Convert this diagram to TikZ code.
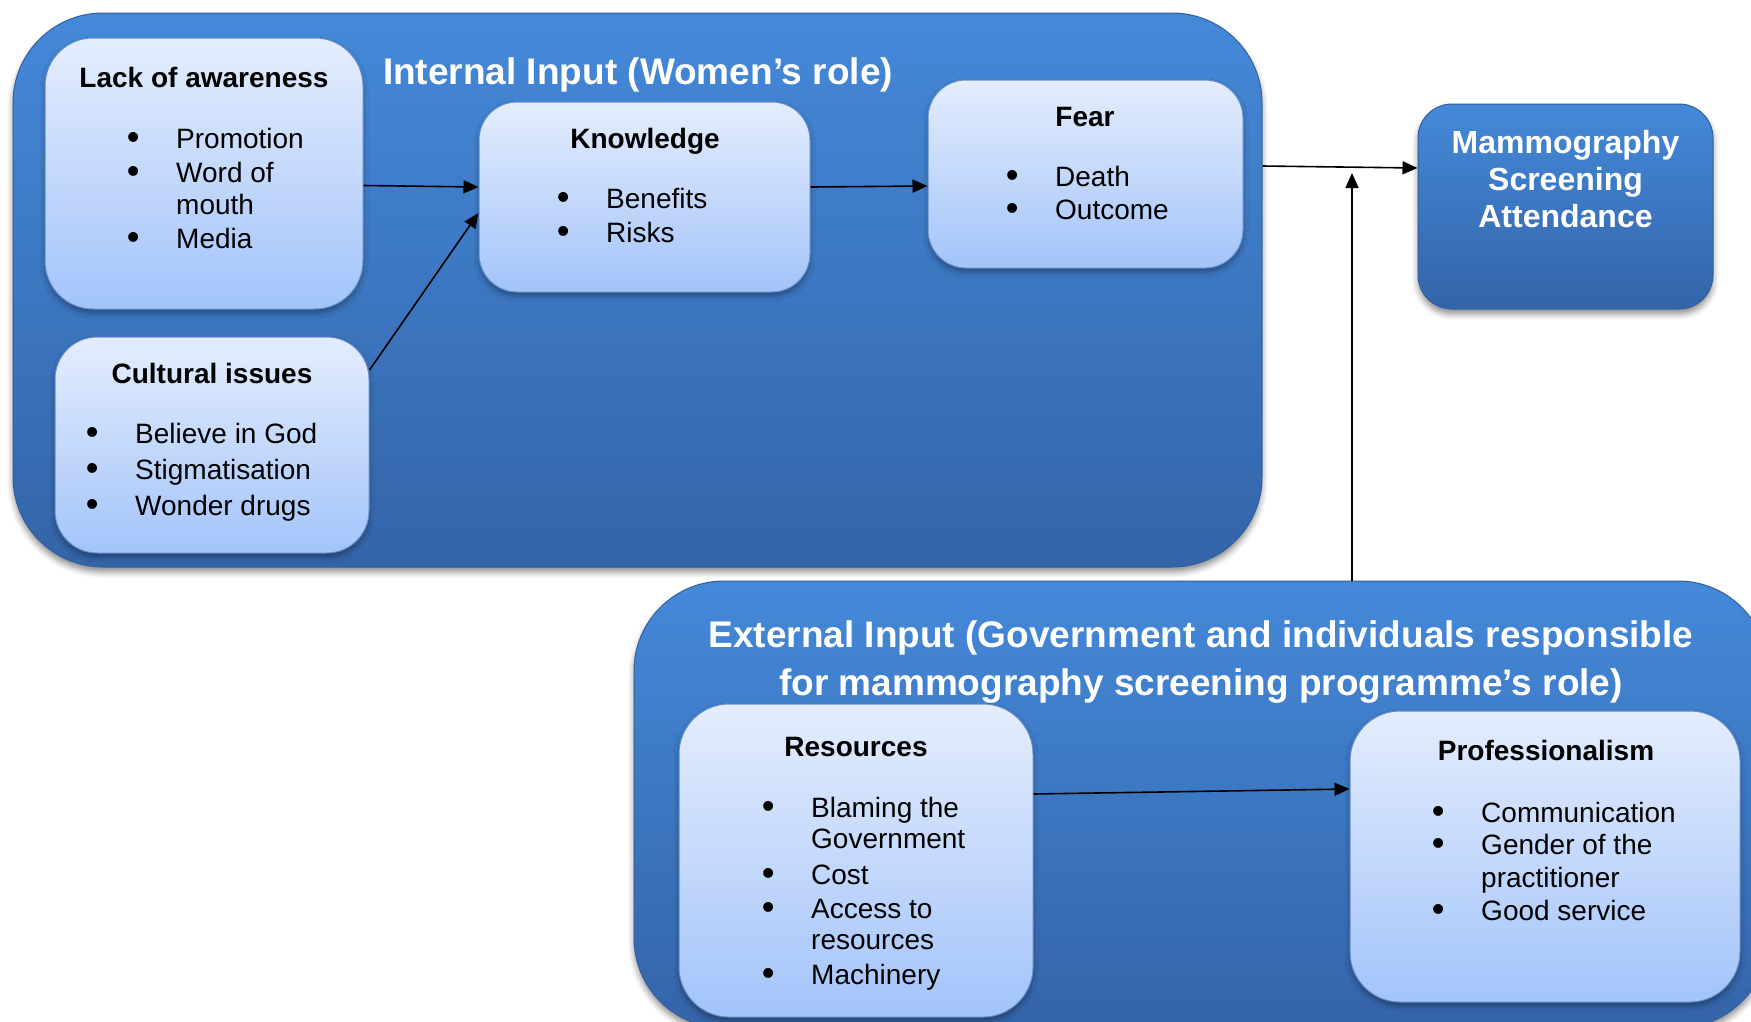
\documentclass[tikz,border=0pt]{standalone}
\usepackage{fontspec}
\setmainfont{Liberation Sans}
\usetikzlibrary{arrows.meta,shadows.blur}

\definecolor{outertop}{RGB}{68,137,217}
\definecolor{outerbot}{RGB}{52,100,168}
\definecolor{outeredge}{RGB}{50,95,160}
\definecolor{innertop}{RGB}{228,237,253}
\definecolor{innerbot}{RGB}{163,196,250}
\definecolor{inneredge}{RGB}{100,140,200}

% bullet list rows: a bullet with its hanging text, and a wrapped continuation line
\newcommand\bitem[1]{\makebox[49.4pt][l]{\raisebox{-1pt}{\scalebox{1.3}{\textbullet}}}#1}
\newcommand\bcont[1]{\hspace*{49.4pt}#1}

\tikzset{
  panel/.style={rectangle, rounded corners=90pt, top color=outertop, bottom color=outerbot,
    draw=outeredge, line width=1pt, inner sep=0pt,
    blur shadow={shadow xshift=0pt, shadow yshift=-5pt, shadow blur radius=6pt, shadow opacity=45}},
  goal/.style={panel, rounded corners=34pt},
  card/.style={rectangle, top color=innertop, bottom color=innerbot,
    draw=inneredge, line width=1pt, inner sep=0pt,
    blur shadow={shadow xshift=0pt, shadow yshift=-4pt, shadow blur radius=5pt, shadow opacity=35}},
  heading/.style={anchor=base, inner sep=0pt, font=\fontsize{28}{31.5}\selectfont\bfseries},
  items/.style={anchor=base west, inner sep=0pt, xshift=-6.4pt, font=\fontsize{28}{31.5}\selectfont},
  title/.style={anchor=base, inner sep=0pt, text=white, font=\fontsize{37}{48}\selectfont\bfseries},
  link/.style={line width=1.6pt, -{Triangle[length=15pt,width=13pt]}},
}

\begin{document}
\begin{tikzpicture}[x=1pt, y=-1pt]
\useasboundingbox (0,0) rectangle (1751,1021);

% the two input panels and the outcome
\node[panel, minimum width=1249pt, minimum height=554pt] (int) at (637.5,290) {};
\node[panel, minimum width=1134pt, minimum height=447pt] (ext) at (1201,804.5) {};
\node[goal, minimum width=295pt, minimum height=205pt] (mam) at (1565.5,206.5) {};

\node[title] (inttitle) at (638,84) {Internal Input (Women’s role)};
\node[title] (exttitle) at (1201,647) {\begin{tabular}[t]{@{}c@{}}External Input (Government and individuals responsible\\ for mammography screening programme’s role)\end{tabular}};
\node[anchor=base, inner sep=0pt, text=white, font=\fontsize{32}{37}\selectfont\bfseries] (mamtext) at (1565.5,153)
  {\begin{tabular}[t]{@{}c@{}}Mammography\\ Screening\\ Attendance\end{tabular}};

% factor cards
\node[card, rounded corners=48pt, minimum width=318pt, minimum height=271pt] (lack) at (204,173.5) {};
\node[card, rounded corners=42pt, minimum width=314pt, minimum height=216pt] (cult) at (212,445) {};
\node[card, rounded corners=38pt, minimum width=331pt, minimum height=190pt] (know) at (644.5,197) {};
\node[card, rounded corners=38pt, minimum width=315pt, minimum height=188pt] (fear) at (1085.5,174) {};
\node[card, rounded corners=50pt, minimum width=354pt, minimum height=313pt] (res) at (856,860.5) {};
\node[card, rounded corners=50pt, minimum width=390pt, minimum height=291pt] (prof) at (1545,856.5) {};

\node[heading] (lackh) at (204,87) {Lack of awareness};
\node[items] (lackl) at (133,148) {\begin{tabular}[t]{@{}l@{}}\bitem{Promotion}\\[3pt] \bitem{Word of}\\ \bcont{mouth}\\[3pt] \bitem{Media}\end{tabular}};

\node[heading] (culth) at (212,383) {Cultural issues};
\node[items] (cultl) at (92,443) {\begin{tabular}[t]{@{}l@{}}\bitem{Believe in God}\\[4.5pt] \bitem{Stigmatisation}\\[4.5pt] \bitem{Wonder drugs}\end{tabular}};

\node[heading] (knowh) at (645,148) {Knowledge};
\node[items] (knowl) at (563,208) {\begin{tabular}[t]{@{}l@{}}\bitem{Benefits}\\[2.5pt] \bitem{Risks}\end{tabular}};

\node[heading] (fearh) at (1085,126) {Fear};
\node[items] (fearl) at (1012,186) {\begin{tabular}[t]{@{}l@{}}\bitem{Death}\\[1.5pt] \bitem{Outcome}\end{tabular}};

\node[heading] (resh) at (856,756) {Resources};
\node[items] (resl) at (768,817) {\begin{tabular}[t]{@{}l@{}}\bitem{Blaming the}\\ \bcont{Government}\\[4pt] \bitem{Cost}\\[2.5pt] \bitem{Access to}\\ \bcont{resources}\\[3.5pt] \bitem{Machinery}\end{tabular}};

\node[heading] (profh) at (1546,760) {Professionalism};
\node[items] (profl) at (1438,822) {\begin{tabular}[t]{@{}l@{}}\bitem{Communication}\\[1pt] \bitem{Gender of the}\\[1pt] \bcont{practitioner}\\[2pt] \bitem{Good service}\end{tabular}};

% influences
\coordinate (join) at (1352,173);
\draw[link] ([yshift=-12pt]lack.east) -- ([yshift=10pt]know.west);
\draw[link] ([yshift=75pt]cult.east) -- ([yshift=-16pt]know.west);
\draw[link] ([yshift=10pt]know.east) -- ([yshift=-12pt]fear.west);
\draw[link] ([yshift=124pt]int.east) -- ([yshift=38.5pt]mam.west);
\draw[link] ([xshift=151pt]ext.north) -- (join);
\draw[link] ([yshift=66.5pt]res.east) -- ([yshift=67.5pt]prof.west);
\end{tikzpicture}
\end{document}
